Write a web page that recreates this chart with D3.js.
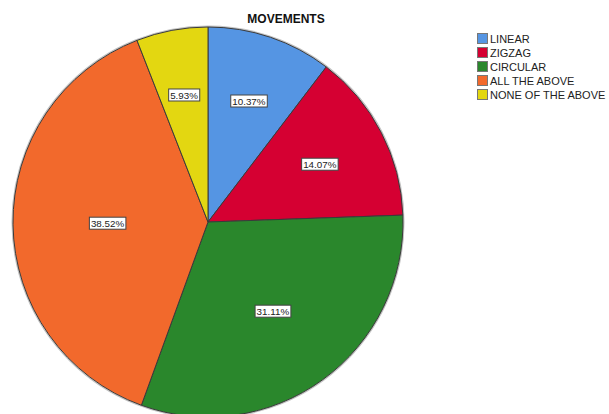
<!DOCTYPE html>
<html>
<head>
<meta charset="utf-8">
<script src="https://cdn.jsdelivr.net/npm/d3@7"></script>
<style>
  html, body { margin: 0; padding: 0; background: #fff; }
  svg { display: block; font-family: "Liberation Sans", Arial, sans-serif; }
</style>
</head>
<body>
<svg id="chart" width="609" height="414"></svg>
<script>
// Movement types and their shares (percent)
const categories = ["LINEAR", "ZIGZAG", "CIRCULAR", "ALL THE ABOVE", "NONE OF THE ABOVE"];
const values = [10.37, 14.07, 31.11, 38.52, 5.93];
const colors = ["#5595e3", "#d50032", "#2a872c", "#f2692c", "#e3d711"];
const title = "MOVEMENTS";

const svg = d3.select("#chart");
const cx = 208, cy = 222, r = 195;

svg.append("text")
  .attr("x", 286).attr("y", 23)
  .attr("text-anchor", "middle")
  .attr("font-size", 12).attr("font-weight", "bold")
  .attr("fill", "#111")
  .text(title);

const pie = d3.pie().sort(null).value(d => d)(values);
const arc = d3.arc().innerRadius(0).outerRadius(r);

const g = svg.append("g").attr("transform", `translate(${cx},${cy})`);

// soft edge shadow around the disc
g.append("circle").attr("r", r + 0.8).attr("fill", "none")
  .attr("stroke", "#999").attr("stroke-width", 1.5).attr("opacity", 0.6);

g.selectAll("path.slice").data(pie).join("path")
  .attr("class", "slice")
  .attr("d", arc)
  .attr("fill", (d, i) => colors[i])
  .attr("stroke", "#3a3a3a")
  .attr("stroke-width", 1);

// labels at the area centroid of each sector
const labels = g.selectAll("g.lbl").data(pie).join("g").attr("class", "lbl")
  .attr("transform", d => {
    const a = (d.endAngle - d.startAngle) / 2;
    const mid = (d.startAngle + d.endAngle) / 2;
    const dist = 2 * r * Math.sin(a) / (3 * a);
    return `translate(${dist * Math.sin(mid)},${-dist * Math.cos(mid)})`;
  });

labels.each(function(d) {
  const sel = d3.select(this);
  const t = sel.append("text")
    .attr("text-anchor", "middle")
    .attr("dy", "0.36em")
    .attr("font-size", 9.8)
    .attr("fill", "#222")
    .text(d.data.toFixed(2) + "%");
  const bb = t.node().getBBox();
  sel.insert("rect", "text")
    .attr("x", bb.x - 1.5).attr("y", -6)
    .attr("width", bb.width + 3).attr("height", 12)
    .attr("fill", "#fff")
    .attr("stroke", "#444").attr("stroke-width", 1);
});

// legend
const legend = svg.append("g").attr("transform", "translate(477,33)");
const items = legend.selectAll("g").data(categories).join("g")
  .attr("transform", (d, i) => `translate(0,${i * 14})`);
items.append("rect")
  .attr("x", 0.5).attr("y", 0.5).attr("width", 10).attr("height", 10)
  .attr("fill", (d, i) => colors[i])
  .attr("stroke", "#777").attr("stroke-width", 1);
items.append("text")
  .attr("x", 13).attr("y", 10)
  .attr("font-size", 11)
  .attr("fill", "#222")
  .text(d => d);
</script>
</body>
</html>
